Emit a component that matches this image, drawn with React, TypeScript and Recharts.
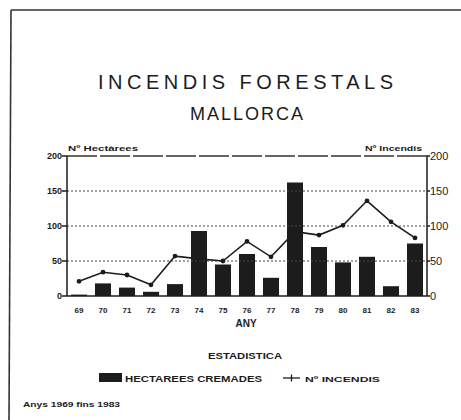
import React from "react";
import {
  ComposedChart,
  Bar,
  Line,
  XAxis,
  YAxis,
  ReferenceLine,
  Legend,
} from "recharts";

const years = ["69", "70", "71", "72", "73", "74", "75", "76", "77", "78", "79", "80", "81", "82", "83"];
const hectarees = [2, 18, 12, 6, 17, 93, 45, 60, 26, 162, 70, 48, 56, 14, 75];
const incendis = [21, 34, 30, 16, 57, 53, 50, 78, 56, 92, 87, 101, 136, 106, 83];
const leftTicks = [0, 50, 100, 150, 200];
const rightTicks = [0, 50, 100, 150, 200];
const dottedGrid = [50, 100, 150];
const topGrid = 200;

const data = years.map((y, i) => ({ any: y, hect: hectarees[i], inc: incendis[i] }));

const INK = "#1c1c1c";
const FONT = "'Liberation Sans', Arial, sans-serif";

const renderLegend = () => (
  <svg width={461} height={20} style={{ display: "block" }}>
    <rect x={99} y={3} width={23} height={9} fill={INK} />
    <text x={125} y={12} fontFamily={FONT} fontWeight="bold" fontSize={9} fill={INK} textLength={137} lengthAdjust="spacingAndGlyphs">
      HECTAREES CREMADES
    </text>
    <line x1={283} y1={8} x2={300} y2={8} stroke={INK} strokeWidth={1.3} />
    <line x1={291.5} y1={4.5} x2={291.5} y2={11.5} stroke={INK} strokeWidth={1.3} />
    <text x={305} y={12} fontFamily={FONT} fontWeight="bold" fontSize={8} fill={INK} textLength={75} lengthAdjust="spacingAndGlyphs">
      Nº INCENDIS
    </text>
  </svg>
);

export default function App() {
  return (
    <div style={{ position: "absolute", left: 0, top: 0, width: 461, height: 420, background: "#fff", overflow: "hidden" }}>
      <ComposedChart
        width={461}
        height={420}
        data={data}
        margin={{ top: 156, right: 0, left: 20, bottom: 84 }}
        barCategoryGap={4}
      >
        <XAxis
          dataKey="any"
          height={20}
          tickLine={false}
          tickMargin={5}
          axisLine={{ stroke: INK, strokeWidth: 1.5 }}
          tick={{ fill: INK, fontSize: 8, fontWeight: "bold", fontFamily: FONT }}
          interval={0}
        />
        <YAxis
          yAxisId="left"
          orientation="left"
          width={47}
          domain={[0, 200]}
          ticks={leftTicks}
          tickSize={5}
          tickMargin={0}
          axisLine={{ stroke: INK, strokeWidth: 1.5 }}
          tickLine={{ stroke: INK, strokeWidth: 1.5 }}
          tick={{ fill: INK, fontSize: 9, fontWeight: "bold", fontFamily: FONT }}
        />
        <YAxis
          yAxisId="right"
          orientation="right"
          width={34}
          domain={[0, 200]}
          ticks={rightTicks}
          tickSize={3}
          tickMargin={0}
          axisLine={{ stroke: INK, strokeWidth: 1.5 }}
          tickLine={{ stroke: INK, strokeWidth: 1.5 }}
          tick={{ fill: INK, fontSize: 11, fontFamily: FONT }}
        />
        {dottedGrid.map((v) => (
          <ReferenceLine key={v} yAxisId="left" y={v} stroke="#444" strokeWidth={1} strokeDasharray="2 2" />
        ))}
        <ReferenceLine yAxisId="left" y={topGrid} stroke="#333" strokeWidth={1.5} strokeDasharray="30 3" />
        <Line
          yAxisId="right"
          dataKey="inc"
          type="linear"
          stroke={INK}
          strokeWidth={1.6}
          dot={{ r: 1.6, fill: INK, stroke: INK }}
          isAnimationActive={false}
        />
        <Bar yAxisId="left" dataKey="hect" fill={INK} barSize={16} isAnimationActive={false} />
        <Legend
          content={renderLegend}
          wrapperStyle={{ position: "absolute", top: 370, left: 0, width: 461, height: 20 }}
        />
      </ComposedChart>
      <svg
        width={461}
        height={420}
        style={{ position: "absolute", left: 0, top: 0, pointerEvents: "none" }}
      >
        <line x1={11} y1={10} x2={461} y2={10} stroke="#333" strokeWidth={1.6} />
        <line x1={11} y1={10} x2={9} y2={420} stroke="#333" strokeWidth={1.6} />
        <text x={98} y={89} fontFamily={FONT} fontSize={20} fill={INK} textLength={295} lengthAdjust="spacing">
          INCENDIS FORESTALS
        </text>
        <text x={190} y={120} fontFamily={FONT} fontSize={18} fill={INK} textLength={113} lengthAdjust="spacing">
          MALLORCA
        </text>
        <text x={68} y={151} fontFamily={FONT} fontWeight="bold" fontSize={8} fill={INK} textLength={70} lengthAdjust="spacingAndGlyphs">
          Nº Hectàrees
        </text>
        <text x={365} y={151} fontFamily={FONT} fontWeight="bold" fontSize={8} fill={INK} textLength={57} lengthAdjust="spacingAndGlyphs">
          Nº Incendis
        </text>
        <text x={246} y={327} textAnchor="middle" fontFamily={FONT} fontWeight="bold" fontSize={10} fill={INK}>
          ANY
        </text>
        <text x={208} y={359} fontFamily={FONT} fontWeight="bold" fontSize={8.5} fill={INK} textLength={74} lengthAdjust="spacingAndGlyphs">
          ESTADISTICA
        </text>
        <text x={23} y={407} fontFamily={FONT} fontWeight="bold" fontSize={7} fill={INK} textLength={97} lengthAdjust="spacingAndGlyphs">
          Anys 1969 fins 1983
        </text>
      </svg>
    </div>
  );
}
